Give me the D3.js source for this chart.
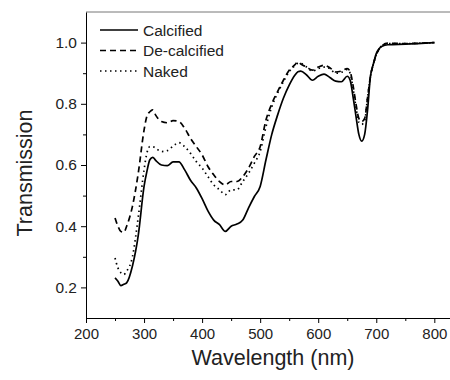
<!DOCTYPE html>
<html>
<head>
<meta charset="utf-8">
<script src="https://cdn.jsdelivr.net/npm/d3@7"></script>
<style>
  body { margin: 0; background: #fff; }
  text { font-family: "Liberation Sans", Arial, sans-serif; fill: #222; }
</style>
</head>
<body>
<div id="chart"></div>
<script>
var wavelength = [250,255,260,265,270,280,290,300,305,310,315,320,330,340,350,360,370,380,390,400,
                  410,420,430,440,450,460,470,480,490,500,510,520,530,540,550,560,565,570,580,590,
                  600,610,620,630,640,650,655,660,665,670,675,680,685,690,695,700,710,720,750,800];

var calcified = [0.231,0.22,0.206,0.21,0.215,0.27,0.37,0.53,0.58,0.617,0.625,0.615,0.60,0.598,0.61,0.61,0.584,0.55,0.525,0.49,
                 0.45,0.42,0.405,0.383,0.40,0.407,0.42,0.46,0.497,0.53,0.617,0.70,0.763,0.818,0.861,0.894,0.905,0.907,0.894,0.877,
                 0.89,0.897,0.886,0.874,0.872,0.89,0.877,0.823,0.76,0.70,0.678,0.70,0.78,0.89,0.93,0.964,0.988,0.993,0.995,1.0];

var decalcified = [0.427,0.40,0.383,0.38,0.40,0.465,0.573,0.714,0.76,0.774,0.78,0.763,0.742,0.738,0.745,0.742,0.72,0.687,0.66,0.633,
                   0.595,0.568,0.546,0.535,0.546,0.546,0.562,0.59,0.628,0.66,0.747,0.80,0.84,0.877,0.91,0.928,0.937,0.93,0.92,0.91,
                   0.92,0.926,0.918,0.904,0.907,0.915,0.905,0.86,0.80,0.752,0.742,0.752,0.82,0.89,0.93,0.96,0.99,0.998,0.997,1.0];

var naked = [0.296,0.264,0.248,0.242,0.253,0.30,0.43,0.584,0.64,0.66,0.66,0.655,0.644,0.647,0.662,0.673,0.66,0.638,0.611,0.59,
             0.562,0.535,0.519,0.503,0.519,0.519,0.546,0.573,0.606,0.644,0.725,0.79,0.835,0.872,0.905,0.925,0.932,0.932,0.92,0.907,
             0.915,0.92,0.915,0.90,0.903,0.912,0.90,0.85,0.79,0.74,0.733,0.745,0.82,0.89,0.93,0.96,0.99,0.997,0.997,1.0];

var seriesNames = ["Calcified", "De-calcified", "Naked"];
var xTicks = [200,300,400,500,600,700,800];
var yTicks = [0.2,0.4,0.6,0.8,1.0];

var width = 450, height = 380;

var x = d3.scaleLinear().domain([200, 827]).range([86, 450]);
var y = d3.scaleLinear().domain([0.1, 1.1]).range([318, 12]);

var svg = d3.select("#chart").append("svg")
    .attr("width", width)
    .attr("height", height);

// frame top
svg.append("line")
   .attr("x1", x(200)).attr("x2", width)
   .attr("y1", y(1.1)).attr("y2", y(1.1))
   .style("stroke", "#777").style("stroke-width", 1);

// minor ticks
svg.append("g")
   .attr("transform", "translate(0," + y(0.1) + ")")
   .call(d3.axisBottom(x).tickValues([250,350,450,550,650,750]).tickSize(3).tickFormat(""))
   .call(function(g){ g.select(".domain").remove(); });
svg.append("g")
   .attr("transform", "translate(" + x(200) + ",0)")
   .call(d3.axisLeft(y).tickValues([0.3,0.5,0.7,0.9]).tickSize(3).tickFormat(""))
   .call(function(g){ g.select(".domain").remove(); });

var xAxis = svg.append("g")
   .attr("transform", "translate(0," + y(0.1) + ")")
   .call(d3.axisBottom(x).tickValues(xTicks).tickSize(5).tickSizeOuter(0).tickFormat(d3.format("d")));
xAxis.selectAll("text").style("font-size", "15px").attr("y", 7).attr("dy", "0.9em");

var yAxis = svg.append("g")
   .attr("transform", "translate(" + x(200) + ",0)")
   .call(d3.axisLeft(y).tickValues(yTicks).tickSize(5).tickSizeOuter(0).tickFormat(d3.format(".1f")));
yAxis.selectAll("text").style("font-size", "15.5px").attr("x", -9);

svg.selectAll(".domain").style("stroke", "#000");

svg.append("text")
   .attr("x", 273).attr("y", 365)
   .attr("text-anchor", "middle")
   .style("font-size", "21.5px")
   .text("Wavelength (nm)");

svg.append("text")
   .attr("transform", "translate(32,173) rotate(-90)")
   .attr("text-anchor", "middle")
   .style("font-size", "21.5px")
   .text("Transmission");

var allSeries = [calcified, decalcified, naked];
var dashes = ["none", "6,4", "1.5,3.5"];

var line = d3.line()
    .x(function(d, i){ return x(wavelength[i]); })
    .y(function(d){ return y(d); })
    .curve(d3.curveMonotoneX);

svg.selectAll(".series")
   .data(allSeries)
   .enter()
   .append("path")
   .attr("class", "series")
   .attr("d", line)
   .style("fill", "none")
   .style("stroke", "#000")
   .style("stroke-width", 1.7)
   .style("stroke-dasharray", function(d, i){ return dashes[i]; });

// legend
var legend = svg.selectAll(".legend")
   .data(seriesNames)
   .enter()
   .append("g")
   .attr("class", "legend")
   .attr("transform", function(d, i){ return "translate(100," + (30 + i * 20.5) + ")"; });

legend.append("line")
   .attr("x1", 0).attr("x2", 38)
   .style("stroke", "#000")
   .style("stroke-width", 1.6)
   .style("stroke-dasharray", function(d, i){ return dashes[i]; });

legend.append("text")
   .attr("x", 43).attr("y", 5.5)
   .style("font-size", "15.5px")
   .text(function(d){ return d; });
</script>
</body>
</html>
